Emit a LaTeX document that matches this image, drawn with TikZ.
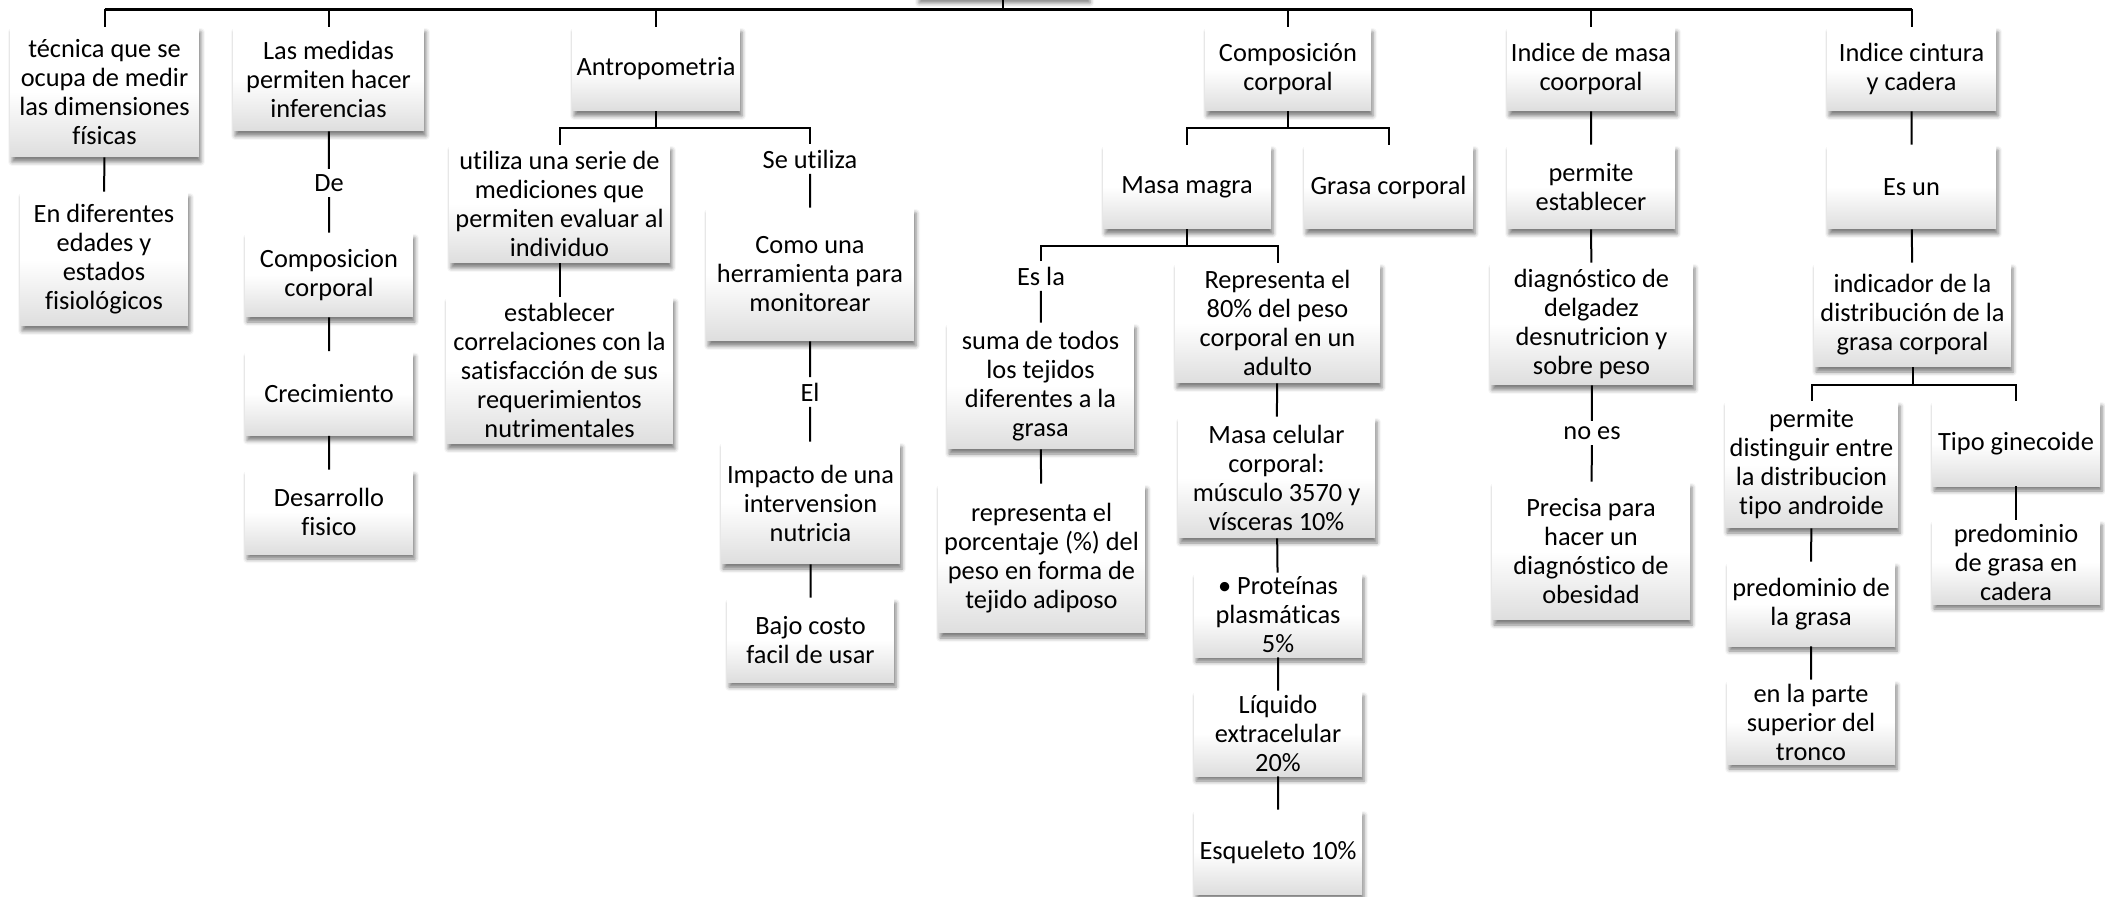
\documentclass[tikz,border=0pt]{standalone}
\usepackage{fontspec}
\setmainfont{Carlito}[Ligatures={CommonOff}]
\usepackage{tikz}
\usetikzlibrary{positioning,shadows.blur}

\begin{document}
\begin{tikzpicture}[
  x=0.02cm, y=-0.02cm,
  font=\fontsize{15}{16.5}\selectfont,
  box/.style={rectangle, draw=none, inner xsep=2pt, inner ysep=0pt, align=center,
              top color=white, bottom color=black!13, middle color=white,
              blur shadow={shadow xshift=0.04cm, shadow yshift=-0.1cm,
                           shadow blur radius=0.08cm, shadow opacity=50},
              minimum width=3.36cm, minimum height=1.68cm},
  lbl/.style={inner sep=3pt, align=center},
  link/.style={line width=0.04cm, black},
  bus/.style={line width=0.055cm, black}
]
\useasboundingbox (0,0) rectangle (2105,896);

% first row
\node[box, minimum width=3.42cm] (root) at (1002.5,-44) {};
\node[box, minimum width=3.78cm, minimum height=2.6cm] (tec) at (104.5,92) {técnica que se\\ocupa de medir\\las dimensiones\\físicas};
\node[box, minimum width=3.82cm, minimum height=2.08cm] (med) at (328.5,79) {Las medidas\\permiten hacer\\inferencias};
\node[box] (antro) at (656,69) {Antropometria};
\node[box, minimum width=3.32cm] (comp) at (1288,69) {Composición\\corporal};
\node[box] (imc) at (1591,69) {Indice de masa\\coorporal};
\node[box, minimum width=3.38cm] (icc) at (1911.5,69) {Indice cintura\\y cadera};
\coordinate (top) at (0,9.3);

% tecnica / medidas
\node[box, minimum height=2.68cm] (dif) at (104,259) {En diferentes\\edades y\\estados\\fisiológicos};
\node[lbl] (de) at (329,183) {De};
\node[box] (compc) at (329,275) {Composicion\\corporal};
\node[box] (crec) at (329,393.5) {Crecimiento};
\node[box] (desa) at (329,512) {Desarrollo\\fisico};

% antropometria
\coordinate (antroBus) at (0,128);
\node[box, minimum width=4.42cm, minimum height=2.36cm] (util) at (559.5,204) {utiliza una serie de\\mediciones que\\permiten evaluar al\\individuo};
\node[box, minimum width=4.54cm, minimum height=2.94cm] (estab) at (559.5,370.5) {establecer\\correlaciones con la\\satisfacción de sus\\requerimientos\\nutrimentales};
\node[lbl] (seut) at (810,159) {Se utiliza};
\node[box, minimum width=4.16cm, minimum height=2.66cm] (como) at (810,274.5) {Como una\\herramienta para\\monitorear};
\node[lbl] (el) at (810,392) {El};
\node[box, minimum width=3.58cm, minimum height=2.44cm] (impa) at (810.5,503) {Impacto de una\\intervension\\nutricia};
\node[box, minimum width=3.34cm] (bajo) at (810.5,640) {Bajo costo\\facil de usar};

% composicion corporal
\coordinate (compBus) at (0,128);
\coordinate (magraBus) at (0,246);
\node[box] (magra) at (1187,187) {Masa magra};
\node[box, minimum width=3.38cm] (grasa) at (1388.5,187) {Grasa corporal};
\node[lbl] (esla) at (1041,276) {Es la};
\node[box, minimum width=3.74cm, minimum height=2.52cm] (suma) at (1040.5,386) {suma de todos\\los tejidos\\diferentes a la\\grasa};
\node[box, minimum width=4.14cm, minimum height=2.98cm] (repre) at (1041.5,558.5) {representa el\\porcentaje (\%) del\\peso en forma de\\tejido adiposo};
\node[box, minimum width=4.1cm, minimum height=2.4cm] (ochenta) at (1277.5,323) {Representa el\\80\% del peso\\corporal en un\\adulto};
\node[box, minimum width=3.94cm, minimum height=2.42cm] (celu) at (1276.5,477.5) {Masa celular\\corporal:\\músculo 3570 y\\vísceras 10\%};
\node[box] (prot) at (1278,615) {• Proteínas\\plasmáticas\\5\%};
\node[box, minimum height=1.7cm] (liq) at (1278,733.5) {Líquido\\extracelular\\20\%};
\node[box] (esq) at (1278,852) {Esqueleto 10\%};

% indice de masa coorporal
\node[box] (perm) at (1591,187) {permite\\establecer};
\node[box, minimum width=4.06cm, minimum height=2.44cm] (diag) at (1591.5,324) {diagnóstico de\\delgadez\\desnutricion y\\sobre peso};
\node[lbl] (noes) at (1592,433) {no es};
\node[box, minimum width=3.96cm, minimum height=2.76cm] (prec) at (1591,551) {Precisa para\\hacer un\\diagnóstico de\\obesidad};

% indice cintura y cadera
\coordinate (indiBus) at (0,385);
\node[box, minimum width=3.38cm] (esun) at (1911.5,187) {Es un};
\node[box, minimum width=3.94cm, minimum height=2.08cm] (indi) at (1912.5,315) {indicador de la\\distribución de la\\grasa corporal};
\node[box, minimum width=3.46cm, minimum height=2.54cm] (dist) at (1811.5,464.5) {permite\\distinguir entre\\la distribucion\\tipo androide};
\node[box, minimum height=1.7cm] (gine) at (2016,443.5) {Tipo ginecoide};
\node[box] (pred1) at (1811,604) {predominio de\\la grasa};
\node[box] (parte) at (1811,722) {en la parte\\superior del\\tronco};
\node[box] (pred2) at (2016,562) {predominio\\de grasa en\\cadera};

% connectors
\draw[bus] (tec.north |- top) -- (icc.north |- top);
\draw[link] (root.south) -- (root.south |- top);
\foreach \n in {tec,med,antro,comp,imc,icc}
  \draw[link] (\n.north) -- (\n.north |- top);
\draw[link] (tec) -- (dif);
\draw[link] (med) -- (de) -- (compc) -- (crec) -- (desa);
\draw[link] (antro.south) -- (antro.south |- antroBus);
\draw[link] (util.north) |- (seut.north |- antroBus) -- (seut.north);
\draw[link] (util) -- (estab);
\draw[link] (seut) -- (como) -- (el) -- (impa) -- (bajo);
\draw[link] (comp.south) -- (comp.south |- compBus);
\draw[link] (magra.north) |- (grasa.north |- compBus) -- (grasa.north);
\draw[link] (magra.south) -- (magra.south |- magraBus);
\draw[link] (esla.north) |- (ochenta.north |- magraBus) -- (ochenta.north);
\draw[link] (esla) -- (suma) -- (repre);
\draw[link] (ochenta) -- (celu) -- (prot) -- (liq) -- (esq);
\draw[link] (imc) -- (perm) -- (diag) -- (noes) -- (prec);
\draw[link] (icc) -- (esun) -- (indi);
\draw[link] (indi.south) -- (indi.south |- indiBus);
\draw[link] (dist.north) |- (gine.north |- indiBus) -- (gine.north);
\draw[link] (dist) -- (pred1) -- (parte);
\draw[link] (gine) -- (pred2);
\end{tikzpicture}
\end{document}
